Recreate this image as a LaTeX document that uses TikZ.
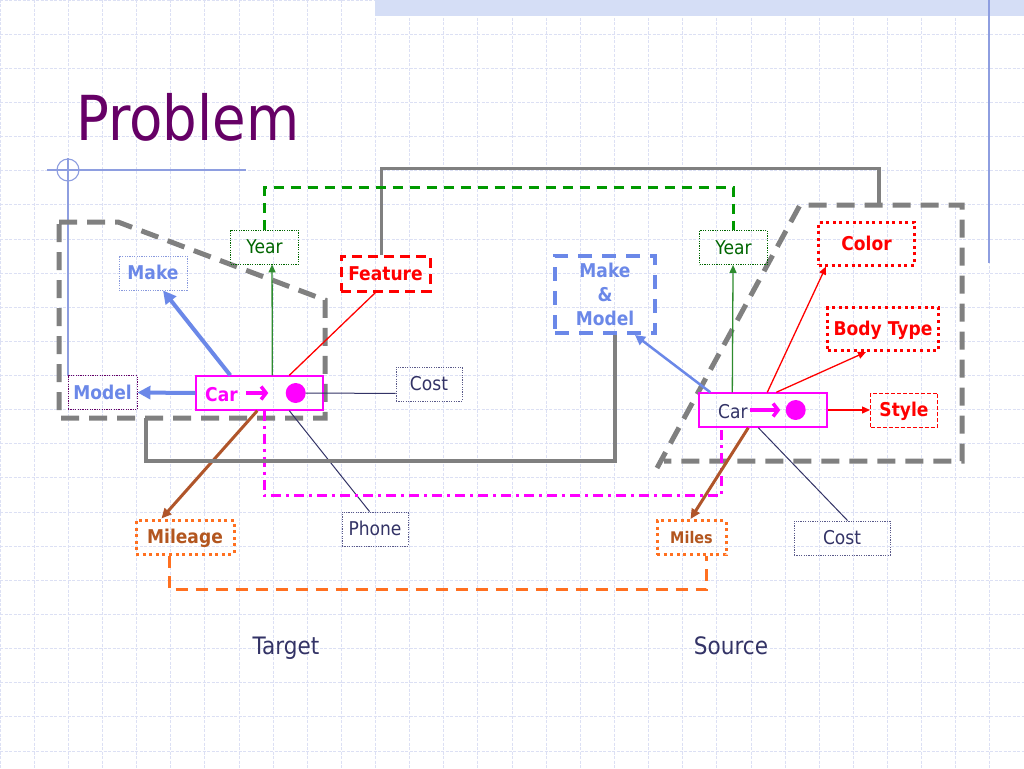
\documentclass[tikz,border=0pt]{standalone}
\usepackage{fontspec}
\setmainfont{DejaVu Sans}[FakeStretch=0.9]
\newfontfamily\titlefont{DejaVu Sans}[FakeStretch=0.88]
\usetikzlibrary{arrows.meta,calc}
\definecolor{magc}{HTML}{FF00FF}
\definecolor{cblue}{HTML}{6B88E8}
\definecolor{grayc}{HTML}{808080}
\definecolor{gdash}{HTML}{009900}
\definecolor{dgreen}{HTML}{006600}
\definecolor{agreen}{HTML}{2E8B2E}
\definecolor{redc}{HTML}{FF0000}
\definecolor{brownc}{HTML}{B0552A}
\definecolor{mtext}{HTML}{B3561F}
\definecolor{orangec}{HTML}{FF7020}
\definecolor{navy}{HTML}{333366}
\definecolor{titlec}{HTML}{660066}
\definecolor{gridc}{HTML}{DCE0F4}
\definecolor{decoc}{HTML}{8E9EE0}
\definecolor{bandc}{HTML}{D5DEF6}
\definecolor{dotnavy}{HTML}{5A5A8A}
\definecolor{dotblue}{HTML}{8899DD}
\begin{document}
\begin{tikzpicture}[x=1pt,y=-1pt,
  gridline/.style={draw=gridc, line width=0.8pt, dash pattern=on 3pt off 1.5pt},
  box/.style={rectangle, inner sep=0pt, font=\fontsize{19}{23}\selectfont, text height=13.9pt, text depth=0pt},
  bbox/.style={box, font=\bfseries\fontsize{19}{23}\selectfont},
  thindot/.style={line width=0.9pt, dash pattern=on 1.2pt off 1.2pt},
  thickdot/.style={line width=3pt, dash pattern=on 3pt off 3.6pt},
  graydash/.style={draw=grayc, line width=5pt, dash pattern=on 18pt off 10pt},
  graysolid/.style={draw=grayc, line width=3.5pt},
  greendash/.style={draw=gdash, line width=3pt, dash pattern=on 10pt off 7pt},
  orangedash/.style={draw=orangec, line width=3pt, dash pattern=on 12pt off 8pt},
  magdd/.style={draw=magc, line width=2.5pt, dash pattern=on 10pt off 5pt on 3pt off 5pt},
  bluethick/.style={draw=cblue, line width=4pt, -{Triangle[length=13pt,width=13pt]}},
  bluemed/.style={draw=cblue, line width=2.5pt, -{Triangle[length=10pt,width=10pt]}},
  greenarrow/.style={draw=agreen, line width=1.3pt, -{Triangle[length=8pt,width=7pt]}},
  redarrow/.style={draw=redc, line width=1.3pt, -{Triangle[length=8pt,width=7pt]}},
  redline/.style={draw=redc, line width=1.3pt},
  navyline/.style={draw=navy, line width=1pt},
  brownarrow/.style={draw=brownc, line width=3pt, -{Triangle[length=10pt,width=9pt]}},
  cararrow/.style={draw=magc, line width=3.5pt, -{Straight Barb[length=5pt,width=13pt]}}
]
\useasboundingbox (0,0) rectangle (1024,768);
\fill[white] (0,0) rectangle (1024,768);
% grid
\foreach \i in {0,...,30} \draw[gridline] ({\i*34.1333},0) -- ({\i*34.1333},768);
\foreach \j in {0,...,22} \draw[gridline] (0,{\j*34.1333}) -- (1024,{\j*34.1333});
% decorations
\fill[bandc] (375,0) rectangle (1024,16);
\draw[decoc, line width=1.3pt] (989,0) -- (989,263);
\draw[decoc, line width=1.3pt] (47,170) -- (246,170);
\draw[decoc, line width=1.1pt] (68,170) circle (11pt);
\draw[decoc, line width=1.3pt] (68,158) -- (68,376);
% title
\node[font=\titlefont\fontsize{62}{70}\selectfont, text=titlec, anchor=base west, inner sep=0pt] (title) at (76,140) {Problem};
% gray dashed regions
\coordinate (gl1) at (59,222);
\coordinate (gl2) at (118,222);
\coordinate (gl3) at (325,300);
\coordinate (gl4) at (325,418);
\coordinate (gl5) at (59,418);
\draw[graydash] (gl1) -- (gl2) -- (gl3) -- (gl4) -- (gl5) -- cycle;
\coordinate (gr0) at (657,468);
\coordinate (gr1) at (800,205);
\coordinate (gr2) at (962,205);
\coordinate (gr3) at (962,461);
\coordinate (gr4) at (664,461);
\draw[graydash] (gr0) -- (gr1) -- (gr2) -- (gr3) -- (gr4);
% left nodes
\node[box, draw=dgreen, thindot, text=dgreen, minimum width=68pt, minimum height=34pt] (yearL) at (264.5,247) {Year};
\node[bbox, draw=dotblue, thindot, text=cblue, minimum width=68pt, minimum height=34pt] (makeL) at (153,273) {Make};
\node[bbox, draw=titlec, thindot, text=cblue, minimum width=69pt, minimum height=34pt] (modelL) at (102.5,392.5) {Model};
\node[rectangle, draw=magc, line width=1.4pt, minimum width=127pt, minimum height=34pt, inner sep=0pt] (carL) at (259.5,393) {};
\node[bbox, draw=redc, line width=3pt, dash pattern=on 10pt off 6pt, text=redc, minimum width=89pt, minimum height=35pt] (featL) at (385.5,273.5) {Feature};
\node[box, draw=dotnavy, thindot, text=navy, minimum width=66pt, minimum height=34pt] (costL) at (429,384) {Cost};
\node[box, draw=dotnavy, thindot, text=navy, minimum width=66pt, minimum height=34pt] (phone) at (375,529) {Phone};
\node[bbox, draw=orangec, thickdot, text=mtext, minimum width=98pt, minimum height=34pt] (mileage) at (185,537) {Mileage};
% right nodes
\node[rectangle, inner sep=0pt, font=\bfseries\fontsize{19}{24}\selectfont, align=center, draw=cblue, line width=4pt, dash pattern=on 14pt off 10pt, text=cblue, minimum width=100pt, minimum height=77pt] (mm) at (605,294.5) {Make\\\&\\Model};
\node[box, draw=dgreen, thindot, text=dgreen, minimum width=68pt, minimum height=34pt] (yearR) at (733.5,247.5) {Year};
\node[rectangle, draw=magc, line width=1.4pt, minimum width=128pt, minimum height=34pt, inner sep=0pt] (carR) at (763,410) {};
\node[bbox, draw=redc, thickdot, text=redc, minimum width=96pt, minimum height=43pt] (color) at (866.5,243.5) {Color};
\node[bbox, draw=redc, thickdot, text=redc, minimum width=111pt, minimum height=43pt] (body) at (883,329) {Body Type};
\node[bbox, draw=redc, line width=1pt, dash pattern=on 4pt off 2pt, text=redc, minimum width=67pt, minimum height=34pt] (style) at (904,410) {Style};
\node[bbox, font=\bfseries\fontsize{16}{20}\selectfont, text height=11.7pt, draw=orangec, thickdot, text=mtext, minimum width=69pt, minimum height=34pt] (miles) at (691.5,537.5) {Miles};
\node[box, draw=dotnavy, thindot, text=navy, minimum width=96pt, minimum height=34pt] (costR) at (842,538) {Cost};
% car contents
\node[font=\bfseries\fontsize{19}{23}\selectfont, text=magc, anchor=base west, inner sep=0pt] (carLt) at (205,401) {Car};
\draw[cararrow] ($(carL.west)+(51,0)$) -- ($(carL.west)+(73,0)$);
\fill[magc] ($(carL.east)+(-28,0)$) circle (10pt);
\node[font=\fontsize{19}{23}\selectfont, text=navy, anchor=base west, inner sep=0pt] (carRt) at (718,418) {Car};
\draw[cararrow] ($(carR.west)+(52,0)$) -- ($(carR.west)+(82,0)$);
\fill[magc] ($(carR.east)+(-32,0)$) circle (10pt);
% left connectors
\draw[bluethick] ($(carL.north west)+(35,0)$) -- ($(makeL.south)+(10,0)$);
\draw[bluethick] (carL.west) -- (modelL.east);
\draw[greenarrow] ($(carL.north west)+(77,0)$) -- ($(yearL.south west)+(42,0)$);
\draw[redline] ($(carL.north west)+(94,0)$) -- ($(featL.south west)+(36,0)$);
\draw[navyline] ($(carL.east)+(-18,0)$) -- ($(costL.south west)+(0,-8)$);
\draw[navyline] ($(carL.south west)+(94,0)$) -- ($(phone.north west)+(28,0)$);
\draw[brownarrow] ($(carL.south west)+(62,0)$) -- ($(mileage.north west)+(27,0)$);
% long links
\draw[magdd] ($(carL.south west)+(69,0)$) -- ++(0,85) -| ($(carR.south west)+(23,0)$);
\draw[orangedash] ($(mileage.south west)+(35,0)$) -- ++(0,34) -| ($(miles.south west)+(51,0)$);
\draw[graysolid] ($(gl5)!0.327!(gl4)$) -- ++(0,43) -| ($(mm.south)+(10,0)$);
\draw[graysolid] ($(featL.north west)+(42,0)$) -- ++(0,-86) -| ($(gr1)!0.488!(gr2)$);
\draw[greendash] (yearL.north) -- ++(0,-42) -| (yearR.north);
% right connectors
\draw[bluemed] ($(carR.north west)+(12,0)$) -- ($(mm.south east)+(-22,0)$);
\draw[greenarrow] ($(carR.north west)+(34,0)$) -- ($(yearR.south west)+(34,0)$);
\draw[redarrow] ($(carR.north west)+(69,0)$) -- ($(color.south west)+(9,0)$);
\draw[redarrow] ($(carR.north west)+(78,0)$) -- ($(body.south west)+(40,0)$);
\draw[redarrow] (carR.east) -- (style.west);
\draw[brownarrow] ($(carR.south west)+(50,0)$) -- ($(miles.north west)+(35,0)$);
\draw[navyline] ($(carR.south west)+(60,0)$) -- ($(costR.north west)+(54,0)$);
% labels
\node[font=\fontsize{24}{28}\selectfont, text=navy, anchor=base, inner sep=0pt] (target) at (286,654) {Target};
\node[font=\fontsize{24}{28}\selectfont, text=navy, anchor=base, inner sep=0pt] (source) at (731,654) {Source};
\end{tikzpicture}
\end{document}
